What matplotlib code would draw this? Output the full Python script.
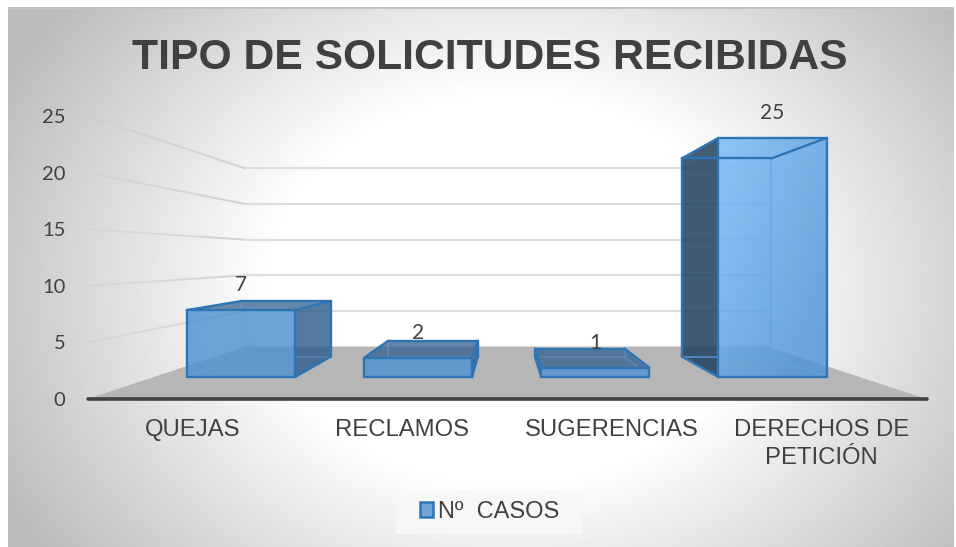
import numpy as np
import matplotlib
matplotlib.use("Agg")
import matplotlib.pyplot as plt
from matplotlib.patches import Polygon, Patch, Rectangle
from matplotlib.collections import LineCollection

# ---- data ----
categories = ["QUEJAS", "RECLAMOS", "SUGERENCIAS", "DERECHOS DE\nPETICIÓN"]
casos = [7, 2, 1, 25]
y_ticks = [0, 5, 10, 15, 20, 25]
series_name = "Nº  CASOS"
title = "TIPO DE SOLICITUDES RECIBIDAS"

W, H = 956, 547
fig = plt.figure(figsize=(W / 100, H / 100), dpi=100, facecolor="white")

# background gradient card
bg = fig.add_axes([7.5 / W, 0 / H, 946 / W, 539.5 / H], zorder=0)
yy, xx = np.mgrid[8:547, 8:954]
r = np.hypot(xx - 510, (yy - 290) * 1.25)
shade = np.clip(1 - np.clip((r - 240) / 260, 0, 1.25) * 0.21, 0, 1)
bg.imshow(shade, cmap="gray", vmin=0, vmax=1, aspect="auto", interpolation="bilinear")
bg.axis("off")
fig.add_artist(Rectangle((7.5 / W, 1 - 8.5 / H), 946 / W, 1.5 / H, transform=fig.transFigure,
                         fc="#c4c4c4", ec="none", zorder=0.5))

# main axes: front plane of the 3D box
ax = fig.add_axes([87.5 / W, (H - 399) / H, 839 / W, 283 / H], zorder=1)
ax.patch.set_alpha(0)
ax.set_xlim(-0.5, 3.5)
ax.set_ylim(0, 25)

XC, YC = 1.49, 12.5
S_FRONT, S_BACK = 0.845, 0.70
WALL_SX, WALL_SY = 0.621, 0.629
BAR_W = 0.61


def proj(x, y, s, sy=None):
    sy = s if sy is None else sy
    return XC + s * (x - XC), YC + sy * (y - YC)


# floor
x0, x1 = -0.5, 3.5
ax.add_patch(Polygon([proj(x0, 0, 1), proj(x0, 0, WALL_SX, WALL_SY),
                      proj(x1, 0, WALL_SX, WALL_SY), proj(x1, 0, 1)],
                     closed=True, fc="#b6b6b6", ec="none", zorder=1))

# gridlines
for t in y_ticks[1:]:
    bx0, by = proj(x0, t, WALL_SX, WALL_SY)
    bx1, _ = proj(x1, t, WALL_SX, WALL_SY)
    ax.plot([bx0, bx1], [by, by], color="#dddddd", lw=1.5, zorder=2, solid_capstyle="butt")
    fx = np.linspace(x0, bx0, 41)
    fy = np.linspace(t, by, 41)
    segs = [[(fx[i], fy[i]), (fx[i + 1], fy[i + 1])] for i in range(40)]
    cols = [(0.79, 0.79, 0.79, 0.25 + i / 40 * 0.6) for i in range(40)]
    ax.add_collection(LineCollection(segs, colors=cols, linewidths=1.4, zorder=2))


def face(pts, fc, alpha, z):
    ax.add_patch(Polygon(pts, closed=True, fc=fc, alpha=alpha, ec="none", zorder=z))


EDGE = "#2e75b6"
INNER = "#62a5e2"
for i, val in enumerate(casos):
    l, r_ = i - BAR_W / 2, i + BAR_W / 2
    fbl, fbr = proj(l, 0, S_FRONT), proj(r_, 0, S_FRONT)
    ftl, ftr = proj(l, val, S_FRONT), proj(r_, val, S_FRONT)
    bbl, bbr = proj(l, 0, S_BACK), proj(r_, 0, S_BACK)
    btl, btr = proj(l, val, S_BACK), proj(r_, val, S_BACK)
    z = 3
    tall = val > 10
    dark = "#20405e" if tall else "#2f5c8c"
    dark_a = 0.85 if tall else 0.80
    face([bbl, bbr, btr, btl], "#5b9bd5", 0.10, z)
    if i < 2:
        face([fbr, bbr, btr, ftr], dark, dark_a, z + 1)
    else:
        face([fbl, bbl, btl, ftl], dark, dark_a, z + 1)
    if not tall:
        face([ftl, ftr, btr, btl], "#2f5c8c", 0.72, z + 1)
    if tall:
        grad = np.linspace(0, 1, 64)[None, :] * 0.6 + np.linspace(0, 1, 64)[:, None] * 0.6
        c0, c1 = np.array([0.48, 0.74, 0.98]), np.array([0.32, 0.59, 0.84])
        img = c0 + np.clip(grad, 0, 1)[..., None] * (c1 - c0)
        im = ax.imshow(img, extent=(fbl[0], fbr[0], fbl[1], ftl[1]), aspect="auto",
                       alpha=0.85, zorder=z + 2)
        im.set_clip_path(Polygon([fbl, fbr, ftr, ftl], closed=True, transform=ax.transData))
    else:
        face([fbl, fbr, ftr, ftl], "#4f93d2", 0.82, z + 2)
    inner = [[bbl, bbr], [bbr, btr], [bbl, btl], [btl, btr], [fbl, bbl], [fbr, bbr], [ftl, btl], [ftr, btr]]
    ax.add_collection(LineCollection(inner, colors=INNER, linewidths=1.1,
                                     alpha=0.8 if tall else 0.4, zorder=z + 3))
    outer = [[fbl, fbr], [fbr, ftr], [ftr, ftl], [ftl, fbl]]
    if i < 2:
        outer += [[ftl, btl], [btl, btr], [btr, ftr], [btr, bbr], [bbr, fbr]]
    else:
        outer += [[ftr, btr], [btr, btl], [btl, ftl], [btl, bbl], [bbl, fbl]]
    ax.add_collection(LineCollection(outer, colors=EDGE, linewidths=1.7, zorder=z + 4, capstyle="round"))
    # value label, a fixed distance above the front top edge
    cx, cy = proj(i, val, S_FRONT)
    ax.annotate(str(val), (cx, cy), xytext=(0, 18), textcoords="offset points",
                ha="center", va="center", fontsize=15, family="Lato", color="#404040", zorder=10)

# thick axis baseline
ax.plot([x0, x1], [0, 0], color="#404040", lw=2.6, solid_capstyle="round", zorder=9, clip_on=False)

ax.set_xlim(-0.5, 3.5)
ax.set_ylim(0, 25)
for s in ax.spines.values():
    s.set_visible(False)
ax.set_xticks(range(len(categories)))
ax.set_xticklabels(categories, family="Liberation Sans", fontsize=17.2, color="#404040", linespacing=1.32)
ax.set_yticks(y_ticks)
ax.set_yticklabels([str(t) for t in y_ticks], family="Lato", fontsize=14.5, color="#404040")
ax.tick_params(axis="both", length=0)
ax.tick_params(axis="x", pad=14.5)
ax.tick_params(axis="y", pad=16)

fig.text(489.5 / W, 1 - 69 / H, title, ha="center", va="baseline", family="Liberation Sans",
         fontweight="bold", fontsize=30.7, color="#404040")

# legend with its pale box
fig.add_artist(Rectangle((396 / W, 1 - 534 / H), 186 / W, 43 / H, transform=fig.transFigure,
                         fc="#f7f7f7", ec="none", zorder=0.8))
handle = Patch(fc="#6fa5d8", ec=EDGE, lw=1.8)
leg = fig.legend([handle], [series_name], loc="center", bbox_to_anchor=(489.5 / W, 1 - 512 / H),
                 prop={"family": "Liberation Sans", "size": 17}, handlelength=0.58, handleheight=0.58,
                 handletextpad=0.2, frameon=False, labelcolor="#404040")
leg.set_zorder(5)

fig.savefig("out.png", dpi=100)
